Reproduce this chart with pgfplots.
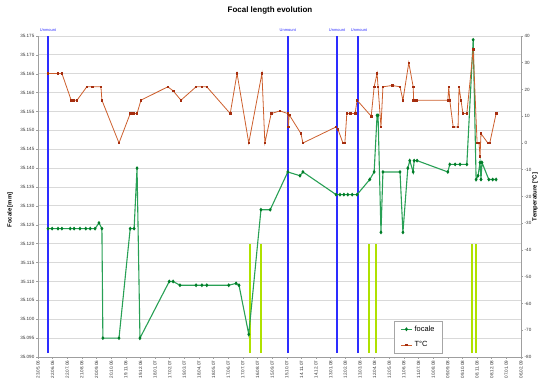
\documentclass[border=0pt]{standalone}
\usepackage{fontspec}
\setmainfont{Liberation Sans}
\usepackage{pgfplots}
\pgfplotsset{compat=1.18}
\definecolor{focgreen}{RGB}{40,160,85}
\definecolor{focmark}{RGB}{0,125,40}
\definecolor{tempor}{RGB}{205,95,45}
\definecolor{tempmark}{RGB}{165,45,15}
\definecolor{unblue}{RGB}{45,45,255}
\definecolor{ylg}{RGB}{175,225,0}
\tikzset{unm/.style={anchor=south, font=\fontsize{4}{4.5}\selectfont, text=unblue, inner sep=0.5bp, yshift=4bp}}
\begin{document}
\begin{tikzpicture}
\begin{axis}[
  scale only axis, width=483bp, height=321bp,
  xmin=0, xmax=990, ymin=35.090, ymax=35.175,
  clip=false,
  axis x line*=bottom, axis y line*=left,
  axis line style={gray!75, line width=0.6bp},
  tick align=outside, major tick length=2bp,
  tick style={gray!75, line width=0.5bp},
  xtick={0,30,...,990},
  xticklabels={23.05.06,22.06.06,22.07.06,21.08.06,20.09.06,20.10.06,19.11.06,19.12.06,18.01.07,17.02.07,19.03.07,18.04.07,18.05.07,17.06.07,17.07.07,16.08.07,15.09.07,15.10.07,14.11.07,14.12.07,13.01.08,12.02.08,13.03.08,12.04.08,12.05.08,11.06.08,11.07.08,10.08.08,09.09.08,09.10.08,08.11.08,08.12.08,07.01.09,06.02.09},
  xticklabel style={rotate=90, anchor=east, font=\fontsize{4.6}{5}\selectfont, inner sep=1.5bp, text=black!80},
  ytick={35.09,35.095,35.1,35.105,35.11,35.115,35.12,35.125,35.13,35.135,35.14,35.145,35.15,35.155,35.16,35.165,35.17,35.175},
  yticklabels={35.090,35.095,35.100,35.105,35.110,35.115,35.120,35.125,35.130,35.135,35.140,35.145,35.150,35.155,35.160,35.165,35.170,35.175},
  yticklabel style={font=\fontsize{4.6}{5}\selectfont, inner sep=1.5bp, text=black!80},
  ymajorgrids, grid style={gray!30, line width=0.9bp},
  unbounded coords=jump,
]
% vertical marker lines
\addplot[forget plot, draw=unblue, line width=1.5bp] coordinates {
(20.5,35.091) (20.5,35.175) (20.5,nan)
(512.4,35.091) (512.4,35.175) (512.4,nan)
(613,35.091) (613,35.175) (613,nan)
(656,35.091) (656,35.175)};
\addplot[forget plot, draw=ylg, line width=1.6bp] coordinates {
(435,35.091) (435,35.120) (435,nan)
(457,35.091) (457,35.120) (457,nan)
(679,35.091) (679,35.120) (679,nan)
(693,35.091) (693,35.120) (693,nan)
(889,35.091) (889,35.120) (889,nan)
(898,35.091) (898,35.120)};
\node[unm] at (axis cs:20.5,35.175) {Unmount};
\node[unm] at (axis cs:512,35.175) {Unmount};
\node[unm] at (axis cs:613,35.175) {Unmount};
\node[unm] at (axis cs:658,35.175) {Unmount};
% focal length
\addplot[focgreen, line width=1.1bp, mark=diamond*, mark size=1.1bp, mark options={fill=focmark, draw=focmark}] coordinates {
(20.5,35.124)(29,35.124)(41,35.124)(49,35.124)(66,35.124)(74,35.124)(86,35.124)(98,35.124)(107,35.124)(117,35.124)(125,35.1255)(131,35.124)(133,35.095)(166,35.095)(189,35.124)(197,35.124)(203,35.140)(209,35.095)(269,35.110)(277,35.110)(291,35.109)(324,35.109)(336,35.109)(346,35.109)(391,35.109)(406,35.1095)(412,35.109)(432,35.096)(457,35.129)(476,35.129)(512,35.139)(537,35.138)(543,35.139)(611,35.133)(619,35.133)(627,35.133)(635,35.133)(644,35.133)(654,35.133)(680,35.137)(689,35.139)(695,35.154)(697,35.154)(703,35.123)(707,35.139)(742,35.139)(748,35.123)(758,35.140)(762,35.142)(769,35.139)(771,35.142)(777,35.142)(840,35.139)(844,35.141)(855,35.141)(865,35.141)(879,35.141)(892,35.174)(898,35.137)(902,35.138)(906,35.1415)(908,35.137)(910,35.1415)(924,35.137)(932,35.137)(939,35.137)
};
\end{axis}
\begin{axis}[
  scale only axis, width=483bp, height=321bp,
  xmin=0, xmax=990, ymin=-80, ymax=40,
  axis x line=none, axis y line*=right,
  axis line style={gray!75, line width=0.6bp},
  tick align=outside, major tick length=2bp,
  tick style={gray!75, line width=0.5bp},
  ytick={-80,-70,-60,-50,-40,-30,-20,-10,0,10,20,30,40},
  yticklabels={-80,-70,-60,-50,-40,-30,-20,-10,0,10,20,30,40},
  yticklabel style={font=\fontsize{4.6}{5}\selectfont, inner sep=1.5bp, text=black!80},
  legend style={at={(0.737,0.012)}, anchor=south west, draw=gray!70, line width=0.5bp,
    font=\fontsize{7.5}{8}\selectfont, row sep=5bp, inner xsep=6bp, inner ysep=2.5bp,
    /tikz/every even column/.append style={column sep=0bp}},
  legend cell align=left,
  legend image code/.code={\draw[mark repeat=2,mark phase=2] plot coordinates {(0cm,0cm) (0.2cm,0cm) (0.4cm,0cm)};},
]
\addlegendimage{focgreen, line width=1.1bp, mark=diamond*, mark size=1.1bp, mark options={fill=focmark, draw=focmark}}
\addlegendentry{focale}
\addplot[tempor, line width=0.8bp, mark=square*, mark size=0.8bp, mark options={fill=tempmark, draw=tempmark}] coordinates {
(20.5,26)(41,26)(49,26)(68,16)(72,16)(80,16)(100,21)(111,21)(129,21)(131,16)(166,0)(189,11)(195,11)(203,11)(211,16)(266,21)(277,19.5)(293,16)(324,21)(336,21)(346,21)(394,11)(408,26)(432,0)(459,26)(465,0)(478,11)(496,12)(512,11)(513,6)(515,10.5)(539,3.5)(543,0)(611,6)(615,5)(625,0)(629,0)(633,11)(640,11)(650,11)(654,16)(683,10)(689,21)(695,26)(697,21)(703,6)(707,21)(726,21.5)(742,21)(748,16)(760,30)(769,21)(770,16)(775,16)(840,16)(842,21)(844,16)(851,6)(861,6)(863,21)(867,16)(871,11)(879,11)(892,35)(900,0)(904,0)(906,-5)(908,3.5)(922,0)(926,0)(939,11)
};
\addlegendentry{T°C}
\end{axis}
\node[font=\footnotesize\bfseries] at (232bp,347bp) {Focal length evolution};
\node[font=\fontsize{6}{7}\selectfont\bfseries, rotate=90] at (-28bp,147bp) {Focale [mm]};
\node[font=\fontsize{6}{7}\selectfont\bfseries, rotate=90] at (497bp,160bp) {Temperature [°C]};
\pgfresetboundingbox
\path[use as bounding box] (-38bp,-28bp) rectangle (501bp,357bp);
\end{tikzpicture}
\end{document}
